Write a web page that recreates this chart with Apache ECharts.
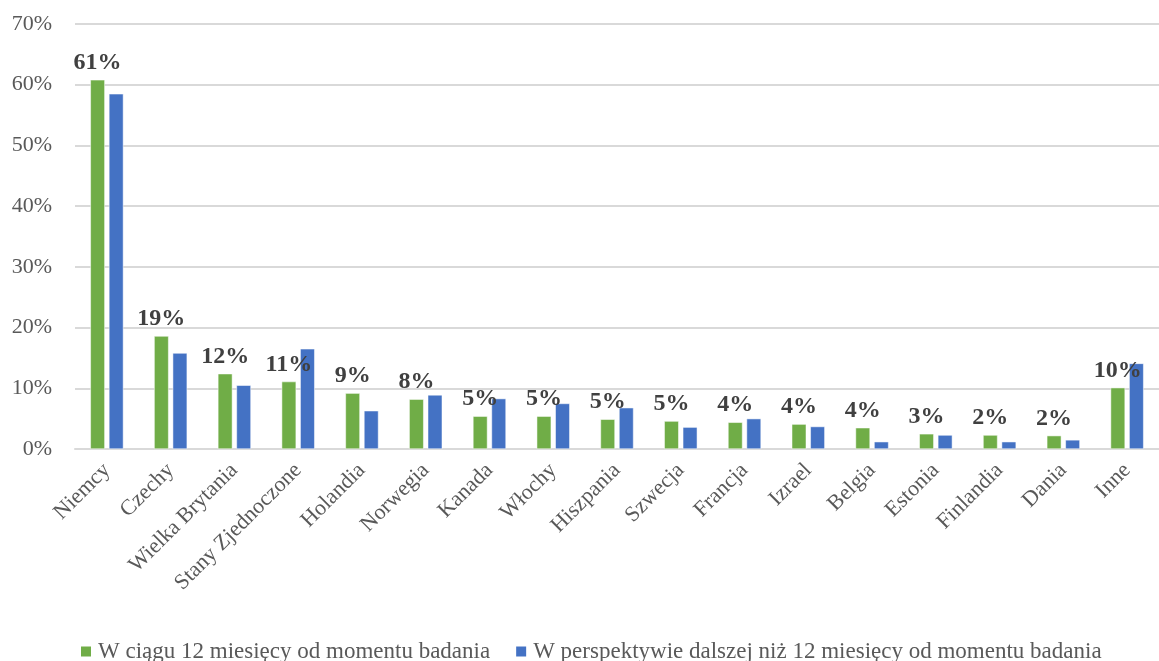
<!DOCTYPE html>
<html>
<head>
<meta charset="utf-8">
<script src="https://cdn.jsdelivr.net/npm/echarts@6/dist/echarts.min.js"></script>
<style>html,body{margin:0;padding:0;background:#fff}#c{width:1159px;height:661px}</style>
</head>
<body>
<div id="c"></div>
<script>
const categories = ['Niemcy','Czechy','Wielka Brytania','Stany Zjednoczone','Holandia','Norwegia','Kanada','Włochy','Hiszpania','Szwecja','Francja','Izrael','Belgia','Estonia','Finlandia','Dania','Inne'];
const seriesNames = ['W ciągu 12 miesięcy od momentu badania','W perspektywie dalszej niż 12 miesięcy od momentu badania'];
const within12 = [60.8, 18.6, 12.4, 11.1, 9.2, 8.2, 5.4, 5.4, 4.9, 4.6, 4.4, 4.1, 3.5, 2.5, 2.3, 2.2, 10.1];
const beyond12 = [58.5, 15.8, 10.5, 16.5, 6.3, 8.9, 8.3, 7.5, 6.8, 3.6, 5.0, 3.7, 1.2, 2.3, 1.2, 1.5, 14.1];
const yTicks = [0, 10, 20, 30, 40, 50, 60, 70];

const font = '"Liberation Serif", "Times New Roman", serif';
const chart = echarts.init(document.getElementById('c'));
chart.setOption({
  animation: false,
  grid: { left: 75, top: 24, width: 1098, height: 425, containLabel: false },
  legend: {
    left: 74, top: 635,
    itemWidth: 12, itemHeight: 12, itemGap: 24,
    icon: 'rect',
    textStyle: { fontFamily: font, fontSize: 23, color: '#595959', padding: [0, 0, 0, 1] },
    data: seriesNames
  },
  xAxis: {
    type: 'category',
    data: categories,
    axisLine: { lineStyle: { color: '#D9D9D9', width: 2 } },
    axisTick: { show: false },
    axisLabel: { rotate: 45, interval: 0, fontFamily: font, fontSize: 22, color: '#595959', margin: 18 }
  },
  yAxis: {
    type: 'value',
    min: yTicks[0], max: yTicks[yTicks.length - 1], interval: 10,
    axisLine: { show: false },
    axisTick: { show: false },
    splitLine: { lineStyle: { color: '#D9D9D9', width: 2 } },
    axisLabel: { formatter: v => v + '%', fontFamily: font, fontSize: 22, color: '#595959', margin: 23 }
  },
  series: [
    {
      name: seriesNames[0], type: 'bar', data: within12,
      barWidth: 14.5, barGap: '28%',
      itemStyle: { color: '#70AD47', borderColor: '#fff', borderWidth: 0.5 },
      label: {
        show: true, position: 'top', distance: 5,
        formatter: p => Math.round(p.value) + '%',
        fontFamily: font, fontSize: 24, fontWeight: 'bold', color: '#404040'
      }
    },
    {
      name: seriesNames[1], type: 'bar', data: beyond12,
      barWidth: 14.5, barGap: '28%',
      itemStyle: { color: '#4472C4', borderColor: '#fff', borderWidth: 0.5 }
    }
  ]
});
</script>
</body>
</html>
